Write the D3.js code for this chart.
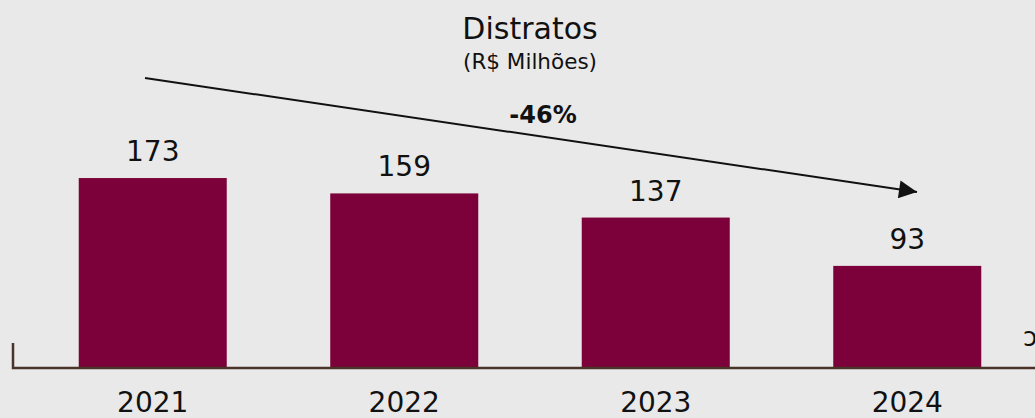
<!DOCTYPE html>
<html><head><meta charset="utf-8">
<script src="https://cdn.jsdelivr.net/npm/d3@7"></script>
<style>
html,body{margin:0;padding:0;background:#e9e9e9;overflow:hidden;}
svg{display:block;font-family:"DejaVu Sans", sans-serif;}
</style></head><body>
<svg id="c" width="1035" height="418"></svg>
<script>
const categories = ["2021","2022","2023","2024"];
const values = [173,159,137,93];
const title = "Distratos";
const subtitle = "(R$ Milhões)";
const changeLabel = "-46%";

const FONT = "'DejaVu Sans', sans-serif";
const svg = d3.select("#c");
svg.append("rect").attr("width",1035).attr("height",418).attr("fill","#e9e9e9");

const x = d3.scaleBand().domain(categories).range([27,1033]).paddingInner(0.4115).paddingOuter(0.2057);
const y = d3.scaleLinear().domain([0,200]).range([368,148.4]);

svg.selectAll("rect.bar").data(values).enter().append("rect")
  .attr("class","bar")
  .attr("x",(d,i)=>x(categories[i]))
  .attr("y",d=>y(d))
  .attr("width",x.bandwidth())
  .attr("height",d=>y(0)-y(d))
  .attr("fill","#7c0039");

svg.selectAll("text.val").data(values).enter().append("text")
  .attr("class","val")
  .attr("x",(d,i)=>x(categories[i])+x.bandwidth()/2)
  .attr("y",d=>y(d)-17)
  .attr("text-anchor","middle")
  .attr("font-size",28)
  .attr("fill","#111")
  .text(d=>d);

// axis
const axisG = svg.append("g").attr("transform","translate(0,368)");
const axis = d3.axisBottom(x).tickSize(0).tickPadding(24);
axisG.call(axis);
axisG.select(".domain").remove();
axisG.selectAll("text").attr("font-size",28).attr("fill","#111").attr("font-family",FONT).attr("dy","0.71em");
svg.append("path").attr("d","M13,343V368H1035").attr("fill","none").attr("stroke","#4a3328").attr("stroke-width",2.5);

svg.append("text").attr("x",530).attr("y",39).attr("text-anchor","middle").attr("font-size",30).attr("fill","#111").text(title);
svg.append("text").attr("x",530).attr("y",69).attr("text-anchor","middle").attr("font-size",21.5).attr("fill","#111").text(subtitle);

// arrow
svg.append("defs").append("marker").attr("id","ah").attr("viewBox","0 0 10 10").attr("refX",10).attr("refY",5)
  .attr("markerWidth",22).attr("markerHeight",18).attr("markerUnits","userSpaceOnUse").attr("orient","auto")
  .append("path").attr("d","M0,0L10,5L0,10Z").attr("fill","#111");
svg.append("line").attr("x1",145).attr("y1",78).attr("x2",917).attr("y2",192)
  .attr("stroke","#111").attr("stroke-width",2).attr("marker-end","url(#ah)");
svg.append("text").attr("x",543).attr("y",123).attr("text-anchor","middle").attr("font-size",24).attr("font-weight","bold").attr("fill","#111").text(changeLabel);

svg.append("text").attr("x",1023).attr("y",346).attr("font-size",26).attr("fill","#111").text("ɔ");
</script>
</body></html>
